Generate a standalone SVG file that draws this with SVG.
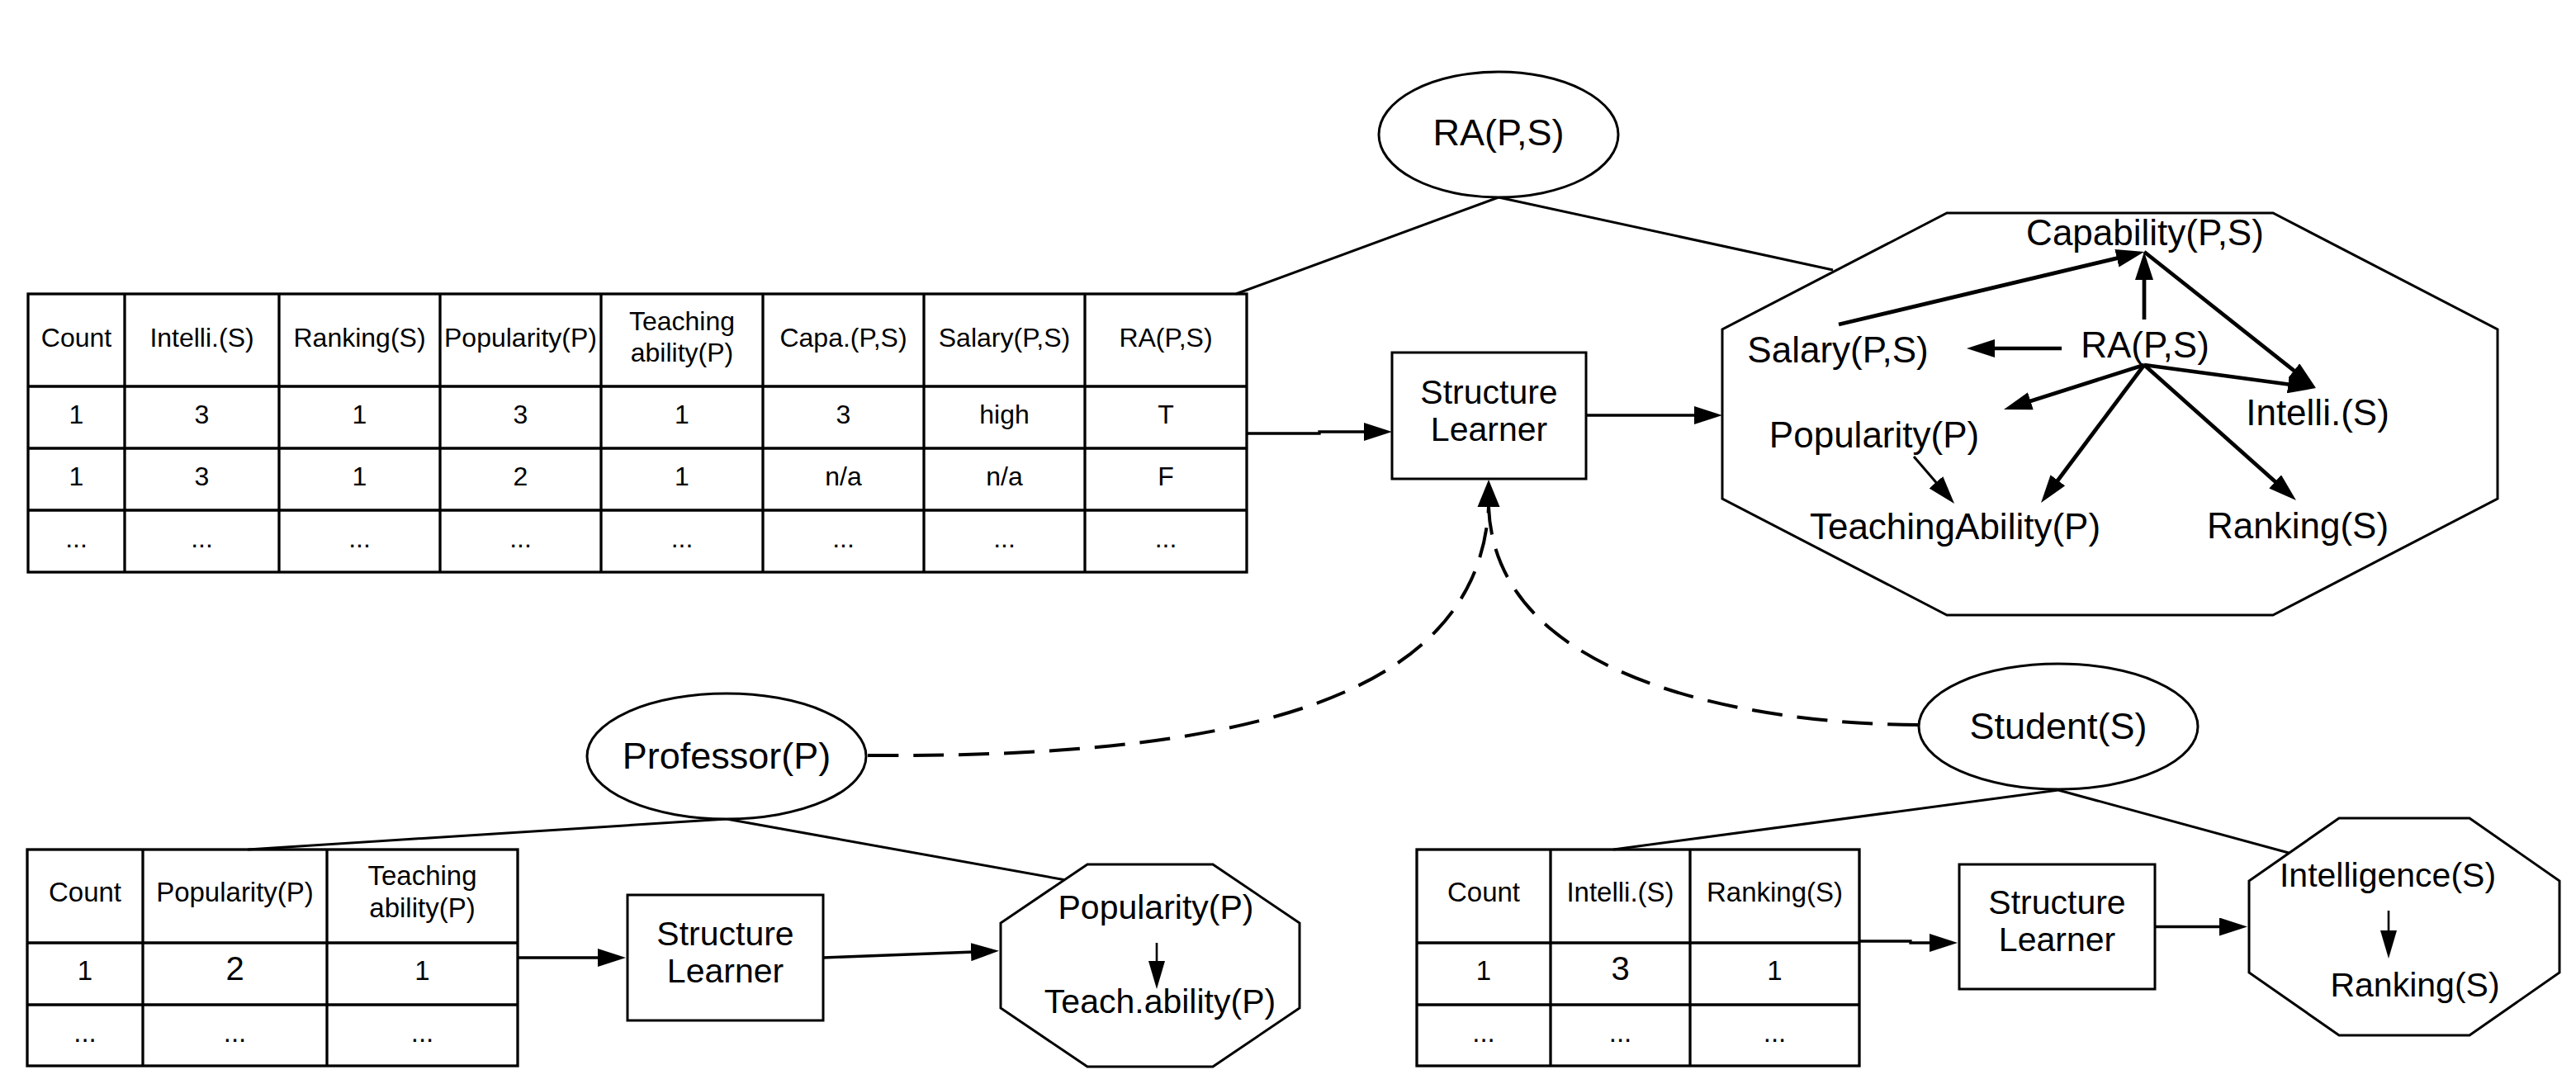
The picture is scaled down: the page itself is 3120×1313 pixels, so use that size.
<svg xmlns="http://www.w3.org/2000/svg" width="3120" height="1313" viewBox="0 0 3120 1313">
<style>
text{font-family:"Liberation Sans",Arial,sans-serif;fill:#000;text-anchor:middle}
.t32{font-size:32px}
.t33{font-size:33px}
.t40{font-size:40px}
.t41{font-size:41px}
.t44{font-size:44px}
.t45{font-size:45px}
.shape{fill:#fff;stroke:#000;stroke-width:3}
.grid{fill:none;stroke:#000;stroke-width:3.3}
.conn{fill:none;stroke:#000;stroke-width:3.3}
.thick{fill:none;stroke:#000;stroke-width:4.7}
.thin{fill:none;stroke:#000;stroke-width:2.6}
.plain{fill:none;stroke:#000;stroke-width:3}
.dash{fill:none;stroke:#000;stroke-width:4;stroke-dasharray:37 18}
</style>
<defs>
<marker id="ah" markerUnits="userSpaceOnUse" viewBox="0 0 34 22" markerWidth="34" markerHeight="22" refX="4" refY="11" orient="auto"><path d="M0,0 L34,11 L0,22 z" fill="#000"/></marker>
<marker id="ahs" markerUnits="userSpaceOnUse" viewBox="0 0 34 20" markerWidth="34" markerHeight="20" refX="4" refY="10" orient="auto"><path d="M0,0 L34,10 L0,20 z" fill="#000"/></marker>
</defs>
<rect width="3120" height="1313" fill="#fff"/>

<g id="connectors">
<line class="plain" x1="1815" y1="239" x2="1497" y2="356"/>
<line class="plain" x1="1815" y1="239" x2="2220" y2="327"/>
<line class="plain" x1="880" y1="992" x2="300" y2="1029"/>
<line class="plain" x1="880" y1="992" x2="1291" y2="1066"/>
<line class="plain" x1="2493" y1="957" x2="1954" y2="1029"/>
<line class="plain" x1="2493" y1="957" x2="2772" y2="1033"/>
<polyline class="conn" points="1510,525 1598,525 1598,523 1656,523" marker-end="url(#ah)"/>
<line class="conn" x1="1921" y1="503" x2="2056" y2="503" marker-end="url(#ah)"/>
<polyline class="conn" points="627,1160 728,1160" marker-end="url(#ah)"/>
<line class="conn" x1="997" y1="1160" x2="1180" y2="1153" marker-end="url(#ah)"/>
<polyline class="conn" points="2252,1140 2314,1140 2314,1142 2341,1142" marker-end="url(#ah)"/>
<line class="conn" x1="2610" y1="1122.5" x2="2692" y2="1122.5" marker-end="url(#ah)"/>
<path class="dash" d="M1051,915 C1480,918 1790,855 1803,614"/>
<path class="dash" d="M2323,878 C2180,878 1812,845 1803,614"/>
<polygon points="1803,581 1789.5,614 1816.5,614" fill="#000"/>
</g>

<g id="table-ra">
<rect class="grid" x="34" y="356" width="1476" height="337"/>
<path class="grid" d="M34,468H1510M34,543H1510M34,618H1510M151,356V693M338,356V693M533,356V693M728,356V693M924,356V693M1119,356V693M1314,356V693"/>
<g class="t32">
<text x="92.5" y="420">Count</text>
<text x="244.5" y="420">Intelli.(S)</text>
<text x="435.5" y="420">Ranking(S)</text>
<text x="630.5" y="420">Popularity(P)</text>
<text x="826" y="400">Teaching</text>
<text x="826" y="438">ability(P)</text>
<text x="1021.5" y="420">Capa.(P,S)</text>
<text x="1216.5" y="420">Salary(P,S)</text>
<text x="1412" y="420">RA(P,S)</text>
<text x="92.5" y="513">1</text>
<text x="244.5" y="513">3</text>
<text x="435.5" y="513">1</text>
<text x="630.5" y="513">3</text>
<text x="826" y="513">1</text>
<text x="1021.5" y="513">3</text>
<text x="1216.5" y="513">high</text>
<text x="1412" y="513">T</text>
<text x="92.5" y="588">1</text>
<text x="244.5" y="588">3</text>
<text x="435.5" y="588">1</text>
<text x="630.5" y="588">2</text>
<text x="826" y="588">1</text>
<text x="1021.5" y="588">n/a</text>
<text x="1216.5" y="588">n/a</text>
<text x="1412" y="588">F</text>
<text x="92.5" y="663">...</text>
<text x="244.5" y="663">...</text>
<text x="435.5" y="663">...</text>
<text x="630.5" y="663">...</text>
<text x="826" y="663">...</text>
<text x="1021.5" y="663">...</text>
<text x="1216.5" y="663">...</text>
<text x="1412" y="663">...</text>
</g>
</g>

<g id="node-ra">
<ellipse class="shape" cx="1815" cy="163" rx="145" ry="76"/>
<text class="t45" x="1815" y="176">RA(P,S)</text>
</g>

<g id="learner-top">
<rect class="shape" x="1686" y="427" width="235" height="153"/>
<text class="t41" x="1803.5" y="489">Structure</text>
<text class="t41" x="1803.5" y="534">Learner</text>
</g>

<g id="model-top">
<polygon class="shape" points="2358,258 2753,258 3025,399 3025,604 2753,745 2358,745 2086,604 2086,399"/>
<g class="t44">
<text x="2598" y="297">Capability(P,S)</text>
<text x="2598" y="433">RA(P,S)</text>
<text x="2226" y="439">Salary(P,S)</text>
<text x="2270" y="542">Popularity(P)</text>
<text x="2807" y="515">Intelli.(S)</text>
<text x="2368" y="653">TeachingAbility(P)</text>
<text x="2783" y="652">Ranking(S)</text>
</g>
<g id="model-top-edges">
<line class="thick" x1="2227" y1="393" x2="2567.8" y2="311.9" marker-end="url(#ah)"/>
<line class="thick" x1="2597" y1="387" x2="2597" y2="335" marker-end="url(#ah)"/>
<line class="thick" x1="2597" y1="305" x2="2781.5" y2="451.4" marker-end="url(#ah)"/>
<line class="thick" x1="2597" y1="442" x2="2775.3" y2="466" marker-end="url(#ah)"/>
<line class="thick" x1="2497" y1="422" x2="2412" y2="422" marker-end="url(#ah)"/>
<line class="thick" x1="2597" y1="442" x2="2455.6" y2="486.9" marker-end="url(#ah)"/>
<line class="thick" x1="2597" y1="442" x2="2490" y2="585" marker-end="url(#ah)"/>
<line class="thick" x1="2597" y1="442" x2="2758.6" y2="586" marker-end="url(#ah)"/>
<line class="plain" x1="2318" y1="553" x2="2347.5" y2="587.3" marker-end="url(#ah)"/>
</g>
</g>

<g id="node-professor">
<ellipse class="shape" cx="880" cy="916" rx="169" ry="76"/>
<text class="t45" x="880" y="931">Professor(P)</text>
</g>

<g id="table-professor">
<rect class="grid" x="33" y="1029" width="594" height="262"/>
<path class="grid" d="M33,1142H627M33,1217H627M173,1029V1291M396,1029V1291"/>
<g class="t33">
<text x="103" y="1092">Count</text>
<text x="284.5" y="1092">Popularity(P)</text>
<text x="511.5" y="1072">Teaching</text>
<text x="511.5" y="1111">ability(P)</text>
<text x="103" y="1187">1</text>
<text class="t40" x="284.5" y="1187">2</text>
<text x="511.5" y="1187">1</text>
<text x="103" y="1262">...</text>
<text x="284.5" y="1262">...</text>
<text x="511.5" y="1262">...</text>
</g>
</g>

<g id="learner-professor">
<rect class="shape" x="760" y="1084" width="237" height="152"/>
<text class="t41" x="878.5" y="1145">Structure</text>
<text class="t41" x="878.5" y="1190">Learner</text>
</g>

<g id="model-professor">
<polygon class="shape" points="1317,1047 1469,1047 1574,1118 1574,1221 1469,1292 1317,1292 1212,1221 1212,1118"/>
<text class="t41" x="1400" y="1113">Popularity(P)</text>
<text class="t41" x="1405" y="1227">Teach.ability(P)</text>
<line class="thin" x1="1401" y1="1142" x2="1401" y2="1168" marker-end="url(#ahs)"/>
</g>

<g id="node-student">
<ellipse class="shape" cx="2493" cy="880" rx="169" ry="76"/>
<text class="t45" x="2493" y="895">Student(S)</text>
</g>

<g id="table-student">
<rect class="grid" x="1716" y="1029" width="536" height="262"/>
<path class="grid" d="M1716,1142H2252M1716,1217H2252M1878,1029V1291M2047,1029V1291"/>
<g class="t33">
<text x="1797" y="1092">Count</text>
<text x="1962.5" y="1092">Intelli.(S)</text>
<text x="2149.5" y="1092">Ranking(S)</text>
<text x="1797" y="1187">1</text>
<text class="t40" x="1962.5" y="1187">3</text>
<text x="2149.5" y="1187">1</text>
<text x="1797" y="1262">...</text>
<text x="1962.5" y="1262">...</text>
<text x="2149.5" y="1262">...</text>
</g>
</g>

<g id="learner-student">
<rect class="shape" x="2373" y="1047" width="237" height="151"/>
<text class="t41" x="2491.5" y="1107">Structure</text>
<text class="t41" x="2491.5" y="1152">Learner</text>
</g>

<g id="model-student">
<polygon class="shape" points="2833,991 2991,991 3100,1067 3100,1178 2991,1254 2833,1254 2724,1178 2724,1067"/>
<text class="t41" x="2892" y="1074">Intelligence(S)</text>
<text class="t41" x="2925" y="1207">Ranking(S)</text>
<line class="thin" x1="2893" y1="1103" x2="2893" y2="1131" marker-end="url(#ahs)"/>
</g>
</svg>
